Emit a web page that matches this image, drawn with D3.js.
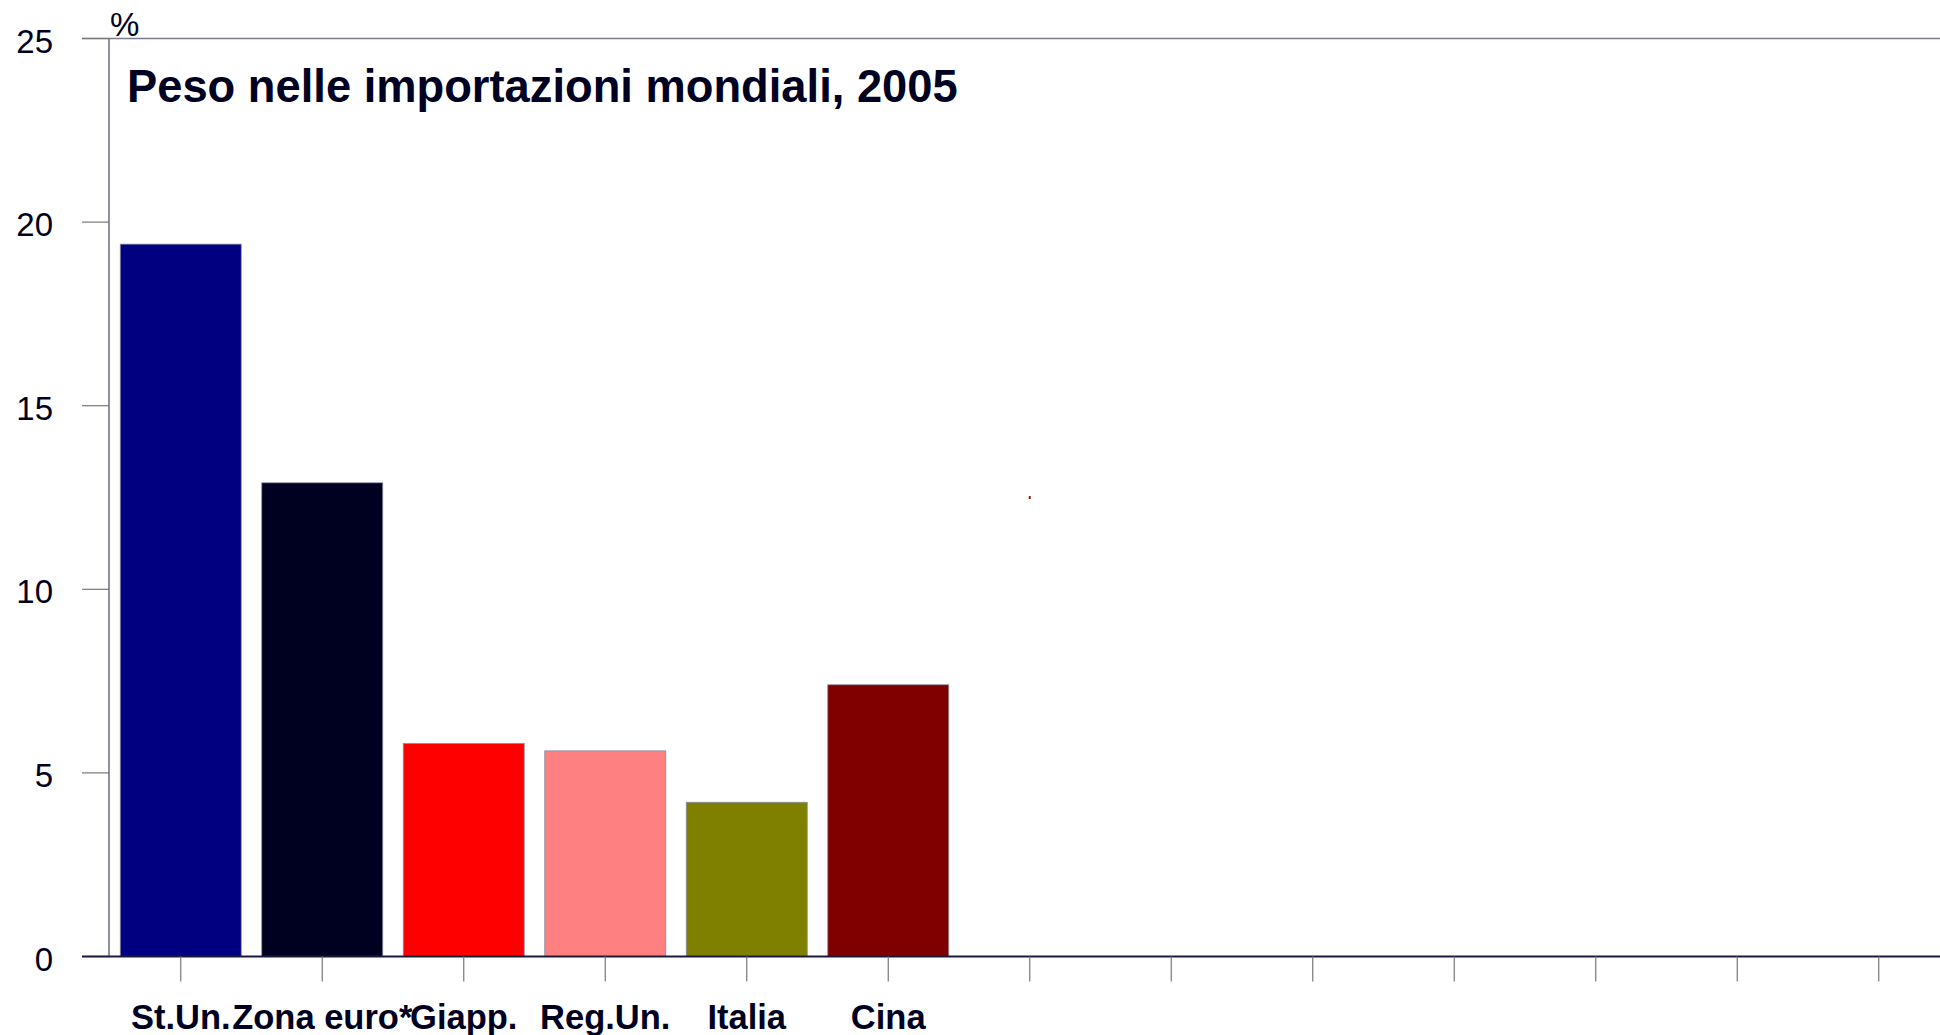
<!DOCTYPE html>
<html>
<head>
    <meta charset="utf-8">
    <title>Peso nelle importazioni mondiali, 2005</title>
    <script src="https://d3js.org/d3.v7.min.js"></script>
    <style>
        html, body {
            margin: 0;
            padding: 0;
            background: #fff;
            overflow: hidden;
        }
        #chart {
            width: 1940px;
            height: 1035px;
        }
        .tick-label {
            font-family: "Liberation Sans", Arial, sans-serif;
            font-size: 33px;
            fill: #000022;
        }
        .cat-label {
            font-family: "Liberation Sans", Arial, sans-serif;
            font-size: 34.5px;
            font-weight: bold;
            fill: #000022;
        }
        .title {
            font-family: "Liberation Sans", Arial, sans-serif;
            font-size: 45.3px;
            font-weight: bold;
            fill: #000022;
        }
    </style>
</head>
<body>
    <div id="chart"></div>

    <script>
        // categorie (le ultime sono vuote nel grafico originale)
        const categories = ["St.Un.", "Zona euro*", "Giapp.", "Reg.Un.", "Italia", "Cina",
                            "c7", "c8", "c9", "c10", "c11", "c12", "c13"];
        const labels = ["St.Un.", "Zona euro*", "Giapp.", "Reg.Un.", "Italia", "Cina",
                        "", "", "", "", "", "", ""];
        const values = [19.4, 12.9, 5.8, 5.6, 4.2, 7.4];
        const barColors = ["#000080", "#000020", "#ff0000", "#ff8080", "#808000", "#800000"];
        const yTicks = [0, 5, 10, 15, 20, 25];

        // piccolo punto isolato visibile nel grafico
        const strayPoint = { cat: "c7", value: 12.5 };

        const width = 1940;
        const height = 1035;

        const svg = d3.select("#chart")
            .append("svg")
            .attr("width", width)
            .attr("height", height);

        const x = d3.scaleBand()
            .domain(categories)
            .range([110, 110 + 13 * 141.5])
            .paddingInner(0.145)
            .paddingOuter(0.0725);

        const y = d3.scaleLinear()
            .domain([0, 25])
            .range([956.5, 38.5]);

        // cornice superiore
        svg.append("line")
            .attr("x1", 82).attr("x2", width)
            .attr("y1", y(25)).attr("y2", y(25))
            .style("stroke", "#7a7a90")
            .style("stroke-width", 1.5);

        // tacche asse y
        svg.selectAll(".ytick")
            .data(yTicks)
            .enter()
            .append("line")
            .attr("x1", 82).attr("x2", 109)
            .attr("y1", d => y(d)).attr("y2", d => y(d))
            .style("stroke", "#777")
            .style("stroke-width", 1.2);

        svg.selectAll(".tick-label")
            .data(yTicks)
            .enter()
            .append("text")
            .attr("class", "tick-label")
            .attr("x", 53)
            .attr("y", d => y(d) + 14)
            .attr("text-anchor", "end")
            .text(d => d);

        // barre
        svg.selectAll(".bar")
            .data(values)
            .enter()
            .append("rect")
            .attr("x", (d, i) => x(categories[i]))
            .attr("y", d => y(d))
            .attr("width", x.bandwidth())
            .attr("height", d => y(0) - y(d))
            .style("fill", (d, i) => barColors[i])
            .style("stroke", "#8a8aa0")
            .style("stroke-width", 0.8);

        svg.append("rect")
            .attr("x", x(strayPoint.cat) + x.bandwidth() / 2 - 1)
            .attr("y", y(strayPoint.value) - 1.5)
            .attr("width", 2)
            .attr("height", 3)
            .style("fill", "#9a2000");

        // asse y
        svg.append("line")
            .attr("x1", 109).attr("x2", 109)
            .attr("y1", y(25)).attr("y2", y(0))
            .style("stroke", "#6a6a85")
            .style("stroke-width", 1.5);

        // asse x
        svg.append("line")
            .attr("x1", 82).attr("x2", width)
            .attr("y1", y(0)).attr("y2", y(0))
            .style("stroke", "#1a1a40")
            .style("stroke-width", 1.8);

        svg.selectAll(".xtick")
            .data(categories)
            .enter()
            .append("line")
            .attr("x1", d => x(d) + x.bandwidth() / 2)
            .attr("x2", d => x(d) + x.bandwidth() / 2)
            .attr("y1", y(0)).attr("y2", y(0) + 25)
            .style("stroke", "#777")
            .style("stroke-width", 1.2);

        svg.selectAll(".cat-label")
            .data(categories)
            .enter()
            .append("text")
            .attr("class", "cat-label")
            .attr("x", d => x(d) + x.bandwidth() / 2)
            .attr("y", 1029)
            .attr("text-anchor", "middle")
            .text((d, i) => labels[i]);

        // titolo e unità
        svg.append("text")
            .attr("class", "title")
            .attr("x", 127)
            .attr("y", 102)
            .text("Peso nelle importazioni mondiali, 2005");

        svg.append("text")
            .attr("class", "tick-label")
            .attr("x", 110)
            .attr("y", 36)
            .text("%");
    </script>
</body>
</html>
